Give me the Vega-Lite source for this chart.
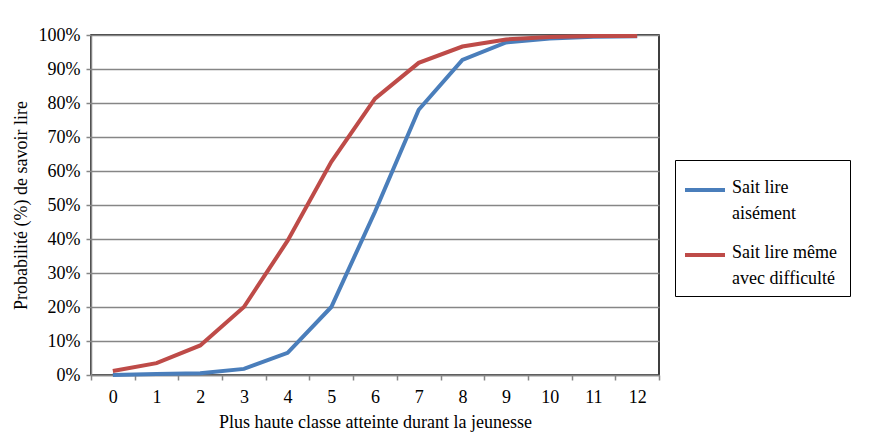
{
  "$schema": "https://vega.github.io/schema/vega-lite/v6.json",
  "width": 568,
  "height": 340,
  "autosize": {"type": "none"},
  "padding": {"left": 91, "top": 35, "right": 218, "bottom": 64},
  "background": "white",
  "config": {
    "font": "Liberation Serif",
    "view": {"stroke": "#000000", "strokeWidth": 1.5},
    "axis": {"labelFont": "Liberation Serif", "titleFont": "Liberation Serif"},
    "legend": {"labelFont": "Liberation Serif"},
    "text": {"font": "Liberation Serif"}
  },
  "data": {
    "values": [
      {"grade": 0, "series": "Sait lire aisément", "p": 0.0},
      {"grade": 1, "series": "Sait lire aisément", "p": 0.003},
      {"grade": 2, "series": "Sait lire aisément", "p": 0.005},
      {"grade": 3, "series": "Sait lire aisément", "p": 0.018},
      {"grade": 4, "series": "Sait lire aisément", "p": 0.065},
      {"grade": 5, "series": "Sait lire aisément", "p": 0.20},
      {"grade": 6, "series": "Sait lire aisément", "p": 0.48},
      {"grade": 7, "series": "Sait lire aisément", "p": 0.78},
      {"grade": 8, "series": "Sait lire aisément", "p": 0.927},
      {"grade": 9, "series": "Sait lire aisément", "p": 0.978},
      {"grade": 10, "series": "Sait lire aisément", "p": 0.99},
      {"grade": 11, "series": "Sait lire aisément", "p": 0.995},
      {"grade": 12, "series": "Sait lire aisément", "p": 0.996},
      {"grade": 0, "series": "Sait lire même avec difficulté", "p": 0.012},
      {"grade": 1, "series": "Sait lire même avec difficulté", "p": 0.035},
      {"grade": 2, "series": "Sait lire même avec difficulté", "p": 0.087},
      {"grade": 3, "series": "Sait lire même avec difficulté", "p": 0.20},
      {"grade": 4, "series": "Sait lire même avec difficulté", "p": 0.395},
      {"grade": 5, "series": "Sait lire même avec difficulté", "p": 0.627},
      {"grade": 6, "series": "Sait lire même avec difficulté", "p": 0.813},
      {"grade": 7, "series": "Sait lire même avec difficulté", "p": 0.918},
      {"grade": 8, "series": "Sait lire même avec difficulté", "p": 0.966},
      {"grade": 9, "series": "Sait lire même avec difficulté", "p": 0.987},
      {"grade": 10, "series": "Sait lire même avec difficulté", "p": 0.994},
      {"grade": 11, "series": "Sait lire même avec difficulté", "p": 0.997},
      {"grade": 12, "series": "Sait lire même avec difficulté", "p": 0.997}
    ]
  },
  "mark": {"type": "line", "strokeWidth": 4, "strokeJoin": "miter"},
  "encoding": {
    "x": {
      "field": "grade",
      "type": "ordinal",
      "bandPosition": 0.5,
      "scale": {"type": "band", "paddingInner": 0, "paddingOuter": 0},
      "axis": {
        "title": "Plus haute classe atteinte durant la jeunesse",
        "labelAngle": 0,
        "labelFont": "Liberation Serif",
        "labelFontSize": 18,
        "labelColor": "#000000",
        "labelPadding": 8,
        "titleFont": "Liberation Serif",
        "titleFontSize": 18,
        "titleFontWeight": "normal",
        "titleColor": "#000000",
        "titlePadding": 7,
        "tickBand": "extent",
        "tickSize": 5,
        "tickColor": "#868686",
        "tickWidth": 1.5,
        "domainColor": "#868686",
        "domainWidth": 1.5,
        "grid": false,
        "encode": {"labels": {"update": {"font": {"value": "Liberation Serif"}}}}
      }
    },
    "y": {
      "field": "p",
      "type": "quantitative",
      "scale": {"domain": [0, 1], "nice": false},
      "axis": {
        "title": "Probabilité (%) de savoir lire",
        "values": [0, 0.1, 0.2, 0.3, 0.4, 0.5, 0.6, 0.7, 0.8, 0.9, 1],
        "format": ".0%",
        "labelFont": "Liberation Serif",
        "labelFontSize": 18,
        "labelColor": "#000000",
        "labelPadding": 6,
        "titleFont": "Liberation Serif",
        "titleFontSize": 18,
        "titleFontWeight": "normal",
        "titleColor": "#000000",
        "titlePadding": 8,
        "tickSize": 5,
        "tickColor": "#868686",
        "tickWidth": 1.5,
        "domainColor": "#868686",
        "domainWidth": 1.5,
        "grid": true,
        "gridColor": "#868686",
        "gridWidth": 1.5,
        "encode": {"labels": {"update": {"font": {"value": "Liberation Serif"}}}}
      }
    },
    "color": {
      "field": "series",
      "type": "nominal",
      "scale": {
        "domain": ["Sait lire aisément", "Sait lire même avec difficulté"],
        "range": ["#4A7EBB", "#BE4B48"]
      },
      "legend": {
        "title": null,
        "orient": "none",
        "legendX": 584,
        "legendY": 125,
        "symbolType": "stroke",
        "symbolStrokeWidth": 4,
        "symbolSize": 1600,
        "labelFont": "Liberation Serif",
        "labelFontSize": 18,
        "labelColor": "#000000",
        "labelLimit": 200,
        "labelOffset": 5,
        "labelExpr": "datum.label == 'Sait lire aisément' ? ['Sait lire', 'aisément'] : ['Sait lire  même', 'avec difficulté']",
        "strokeColor": "#000000",
        "padding": 8,
        "rowPadding": 10,
        "encode": {
          "labels": {
            "enter": {"font": {"value": "Liberation Serif"}},
            "update": {"font": {"value": "Liberation Serif"}, "lineHeight": {"value": 26}, "baseline": {"value": "top"}, "dy": {"value": -11}}
          }
        }
      }
    }
  }
}
